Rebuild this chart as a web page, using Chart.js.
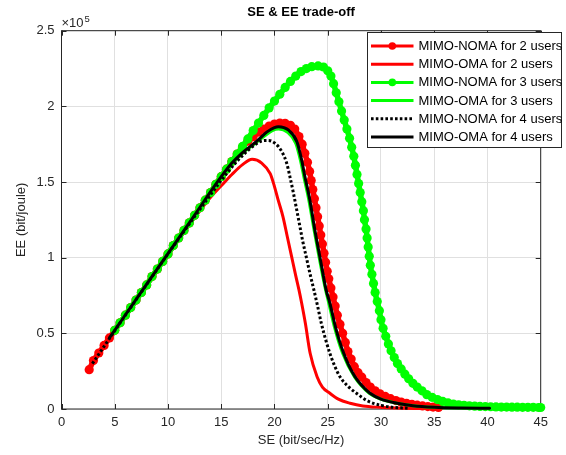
<!DOCTYPE html>
<html><head><meta charset="utf-8">
<script src="https://cdn.jsdelivr.net/npm/chart.js@4.4.1/dist/chart.umd.min.js"></script>
<style>html,body{margin:0;padding:0;background:#fff;}</style>
</head><body>
<canvas id="c" width="566" height="455"></canvas>
<script>
// ---- Data (EE in units of 1e5 bit/joule) ----
const xTicks = [0,5,10,15,20,25,30,35,40,45];
const yTicks = [0,0.5,1,1.5,2,2.5];
const seriesNames = ["MIMO-NOMA for 2 users","MIMO-OMA for 2 users","MIMO-NOMA for 3 users","MIMO-OMA for 3 users","MIMO-NOMA for 4 users","MIMO-OMA for 4 users"];

const seNoma2 = [2.6,3,3.5,4,4.5,5,5.5,6,6.5,7,7.5,8,8.5,9,9.5,10,10.5,11,11.5,12,12.5,13,13.5,14,14.5,15,15.5,16,16.5,17,17.5,18,18.5,19,19.5,20,
 20.5,21,21.5,21.9,22.3,22.6,22.85,23.1,23.3,23.45,23.6,23.75,23.9,24.05,24.2,24.35,24.5,24.65,24.8,24.95,25.1,25.3,25.5,25.7,25.9,26.15,26.4,26.65,26.9,27.2,27.5,27.85,28.2,28.6,29.0,29.45,29.9,30.4,30.9,31.4,31.9,32.4,32.9,33.4,33.9,34.4,34.9,35.4];
const eeNoma2 = [0.26,0.32,0.37,0.42,0.47,0.52,0.57,0.62,0.67,0.72,0.77,0.82,0.875,0.925,0.975,1.025,1.08,1.13,1.18,1.23,1.28,1.33,1.38,1.43,1.485,1.535,1.585,1.635,1.685,1.73,1.77,1.80,1.83,1.85,1.87,1.883,
 1.89,1.888,1.875,1.85,1.80,1.75,1.69,1.63,1.57,1.51,1.45,1.39,1.33,1.27,1.21,1.15,1.09,1.03,0.97,0.91,0.86,0.80,0.74,0.68,0.62,0.56,0.50,0.44,0.38,0.33,0.28,0.24,0.21,0.175,0.145,0.12,0.10,0.083,0.068,0.056,0.046,0.038,0.031,0.025,0.02,0.016,0.013,0.01];

const seOma2 = [2.6,5,8,11,12,13,14,15,16,17,17.9,18.8,19.6,20.0,20.35,20.8,21.2,21.6,22.0,22.3,22.55,22.9,23.35,24.0,24.5,25.2,26.0,27.1,28.3,29.9,31.5,34.0];
const eeOma2 = [0.26,0.52,0.82,1.125,1.22,1.31,1.40,1.475,1.55,1.615,1.65,1.625,1.555,1.47,1.38,1.27,1.14,1.01,0.88,0.787,0.70,0.566,0.368,0.213,0.145,0.104,0.065,0.038,0.02,0.011,0.006,0.003];

const seNoma3 = [5,5.5,6,6.5,7,7.5,8,8.5,9,9.5,10,10.5,11,11.5,12,12.5,13,13.5,14,14.5,15,15.5,16,16.5,17,17.5,18,18.5,19,19.5,20,
 20.5,21,21.5,22,22.5,23,23.5,24.1,24.6,25.0,25.3,25.55,25.8,26.05,26.3,26.55,26.8,27.05,27.25,27.45,27.6,27.75,27.9,28.05,28.2,28.35,28.45,28.6,28.7,28.8,28.9,29.0,29.15,29.3,29.45,29.65,29.85,30.0,30.2,30.45,30.7,30.95,31.25,31.55,31.9,32.25,32.6,33.0,33.4,33.85,34.3,34.8,35.3,35.8,36.3,36.8,37.3,37.8,38.3,38.8,39.3,39.8,40.3,40.8,41.3,41.8,42.3,42.8,43.3,43.8,44.3,44.8,45];
const eeNoma3 = [0.52,0.57,0.62,0.67,0.72,0.77,0.82,0.875,0.925,0.975,1.025,1.08,1.13,1.18,1.23,1.28,1.33,1.38,1.43,1.485,1.535,1.585,1.635,1.685,1.735,1.785,1.84,1.89,1.94,1.99,2.035,
 2.08,2.125,2.165,2.20,2.23,2.25,2.262,2.267,2.26,2.235,2.20,2.15,2.09,2.03,1.97,1.91,1.85,1.79,1.73,1.67,1.61,1.55,1.49,1.43,1.37,1.31,1.25,1.19,1.13,1.07,1.01,0.95,0.89,0.83,0.77,0.71,0.65,0.59,0.533,0.48,0.43,0.385,0.34,0.30,0.265,0.23,0.20,0.17,0.145,0.12,0.095,0.077,0.062,0.05,0.04,0.033,0.028,0.024,0.021,0.019,0.017,0.016,0.015,0.014,0.013,0.013,0.012,0.012,0.011,0.011,0.011,0.01,0.01];

const seOma3 = [5,10,15,16,17,18,19,19.8,20.4,21.2,22.0,22.45,22.8,23.2,23.7,24.2,24.8,25.1,25.6,26.4,27.5,28.9,30.0,31.5,33,35.5,38];
const eeOma3 = [0.52,1.025,1.53,1.62,1.69,1.745,1.80,1.84,1.85,1.83,1.755,1.64,1.52,1.39,1.19,1.0,0.787,0.70,0.55,0.368,0.213,0.104,0.065,0.038,0.022,0.01,0.006];

const seNoma4 = [2.9,6,10,13,15,16.45,17.7,18.64,19.4,20.05,20.7,21.15,21.45,21.77,22.05,22.35,22.65,23.0,23.35,23.7,24.05,24.4,24.8,25.2,25.65,26.15,26.9,27.7,28.7,29.9,31.0,32.5];
const eeNoma4 = [0.30,0.62,1.025,1.32,1.51,1.635,1.72,1.767,1.775,1.756,1.70,1.624,1.535,1.43,1.33,1.22,1.11,1.0,0.89,0.787,0.68,0.566,0.46,0.368,0.285,0.213,0.15,0.104,0.055,0.026,0.012,0.005];

const seOma4 = [4.5,8,12,15,16,17,18,18.5,19.27,20.0,20.36,21.3,22.1,22.55,22.86,23.3,23.8,24.28,24.85,25.2,25.7,26.1,26.5,27.0,27.56,28.2,28.97,30.0,31.5,33,35,37.5,40.2];
const eeOma4 = [0.47,0.825,1.23,1.535,1.625,1.695,1.75,1.78,1.83,1.86,1.866,1.844,1.767,1.646,1.535,1.39,1.18,1.0,0.787,0.70,0.55,0.45,0.368,0.285,0.213,0.155,0.104,0.065,0.038,0.022,0.012,0.007,0.005];

// ---- Styles ----
const FONT = "'Liberation Sans', Arial, Helvetica, sans-serif";
const AX = '#262626';
const zip = (xs, ys) => xs.map((v, i) => ({x: v, y: ys[i]}));
const styles = [
  {color:'#ff0000', marker:true,  dash:[]},
  {color:'#ff0000', marker:false, dash:[]},
  {color:'#00ff00', marker:true,  dash:[]},
  {color:'#00ff00', marker:false, dash:[]},
  {color:'#000000', marker:false, dash:[2.6,2.2]},
  {color:'#000000', marker:false, dash:[]}
];
const seriesData = [zip(seNoma2,eeNoma2), zip(seOma2,eeOma2), zip(seNoma3,eeNoma3), zip(seOma3,eeOma3), zip(seNoma4,eeNoma4), zip(seOma4,eeOma4)];

const datasets = seriesData.map((d, i) => ({
  label: seriesNames[i],
  data: d,
  borderColor: styles[i].color,
  backgroundColor: styles[i].color,
  borderWidth: styles[i].marker ? 5.5 : 3,
  borderDash: styles[i].dash,
  borderCapStyle: 'round',
  pointRadius: styles[i].marker ? 4.6 : 0,
  pointBorderWidth: 0,
  pointBackgroundColor: styles[i].color,
  pointHoverRadius: 0,
  cubicInterpolationMode: 'monotone',
  order: 6 - i,
  clip: false
}));
datasets[4].borderCapStyle = 'butt';

const decor = {
  id: 'decor',
  beforeDatasetsDraw(chart) {
    const {ctx, chartArea: a, scales: {x, y}} = chart;
    ctx.save();
    ctx.strokeStyle = AX; ctx.lineWidth = 1;
    ctx.strokeRect(a.left, a.top, a.right - a.left, a.bottom - a.top);
    ctx.beginPath();
    const tl = 5;
    xTicks.forEach(v => { const p = Math.round(x.getPixelForValue(v)) + 0.5;
      ctx.moveTo(p, a.bottom); ctx.lineTo(p, a.bottom - tl);
      ctx.moveTo(p, a.top); ctx.lineTo(p, a.top + tl); });
    yTicks.forEach(v => { const p = Math.round(y.getPixelForValue(v)) + 0.5;
      ctx.moveTo(a.left, p); ctx.lineTo(a.left + tl, p);
      ctx.moveTo(a.right, p); ctx.lineTo(a.right - tl, p); });
    ctx.stroke();
    ctx.restore();
  },
  afterDraw(chart) {
    const {ctx, chartArea: a} = chart;
    const cx = (a.left + a.right) / 2, cy = (a.top + a.bottom) / 2;
    ctx.save();
    // title
    ctx.fillStyle = '#000'; ctx.textAlign = 'center'; ctx.textBaseline = 'middle';
    ctx.font = 'bold 13px ' + FONT;
    ctx.fillText('SE & EE trade-off', cx, 12.5);
    // axis labels
    ctx.fillStyle = AX; ctx.font = '13px ' + FONT;
    ctx.fillText('SE (bit/sec/Hz)', cx, 440);
    ctx.save(); ctx.translate(21, cy); ctx.rotate(-Math.PI / 2);
    ctx.fillText('EE (bit/joule)', 0, 0); ctx.restore();
    // exponent
    ctx.textAlign = 'left'; ctx.textBaseline = 'alphabetic';
    ctx.font = '13px ' + FONT;
    ctx.fillText('\u00d710', a.left, 27);
    const w = ctx.measureText('\u00d710').width;
    ctx.font = '9.5px ' + FONT;
    ctx.fillText('5', a.left + w + 1, 21.5);
    // legend
    const L = {x: 367.5, y: 32.5, w: 194, h: 115};
    ctx.fillStyle = '#fff'; ctx.fillRect(L.x, L.y, L.w, L.h);
    ctx.strokeStyle = AX; ctx.lineWidth = 1; ctx.strokeRect(L.x, L.y, L.w, L.h);
    const rowY = i => 46 + i * 18.2;
    seriesNames.forEach((name, i) => {
      const yy = rowY(i), s = styles[i];
      ctx.strokeStyle = s.color; ctx.lineWidth = 3; ctx.lineCap = 'butt';
      ctx.setLineDash(s.dash);
      ctx.beginPath(); ctx.moveTo(371, yy); ctx.lineTo(413.5, yy); ctx.stroke();
      ctx.setLineDash([]);
      if (s.marker) { ctx.fillStyle = s.color; ctx.beginPath(); ctx.arc(392.3, yy, 3.8, 0, Math.PI * 2); ctx.fill(); }
      ctx.fillStyle = '#000'; ctx.font = '13px ' + FONT; ctx.textBaseline = 'middle';
      ctx.fillText(name, 418.5, yy + 0.5);
    });
    ctx.restore();
  }
};

new Chart(document.getElementById('c'), {
  type: 'line',
  data: { datasets },
  options: {
    responsive: false, animation: false,
    layout: { padding: { left: 0, right: 25.3, top: 30.7, bottom: 0 } },
    plugins: { legend: { display: false }, title: { display: false }, tooltip: { enabled: false } },
    events: [],
    scales: {
      x: {
        type: 'linear', min: 0, max: 45,
        afterBuildTicks: s => { s.ticks = xTicks.map(v => ({value: v})); },
        afterFit: s => { s.height = 46; },
        grid: { color: '#e0e0e0', drawTicks: false, lineWidth: 1 },
        border: { display: false },
        ticks: { color: AX, font: { family: FONT, size: 13 }, padding: 6, maxRotation: 0, autoSkip: false, callback: v => String(v) }
      },
      y: {
        type: 'linear', min: 0, max: 2.5,
        afterBuildTicks: s => { s.ticks = yTicks.map(v => ({value: v})); },
        afterFit: s => { s.width = 61.5; },
        grid: { color: '#e0e0e0', drawTicks: false, lineWidth: 1 },
        border: { display: false },
        ticks: { color: AX, font: { family: FONT, size: 13 }, padding: 7, autoSkip: false, callback: v => String(v) }
      }
    }
  },
  plugins: [decor]
});
</script>
</body></html>
